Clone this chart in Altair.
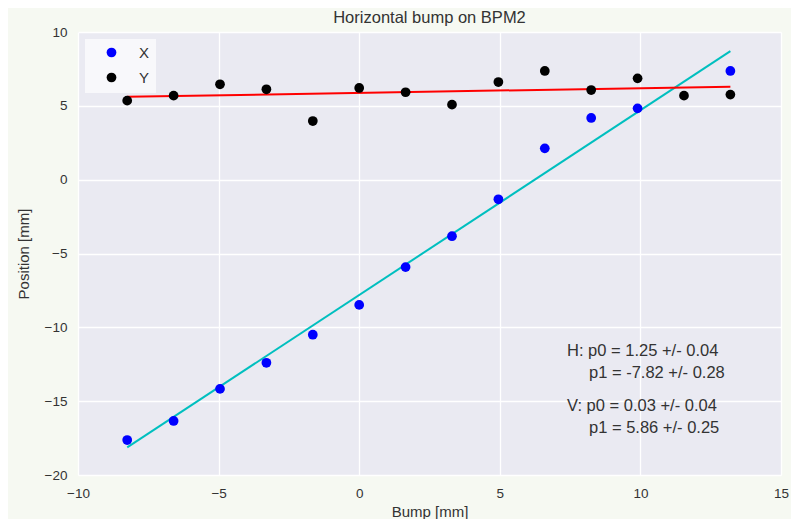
import altair as alt
import pandas as pd

# ---- data ----
bump = [-8.25, -6.6, -4.95, -3.3, -1.65, 0.0, 1.65, 3.3, 4.95, 6.6, 8.25, 9.9, 11.55, 13.2]
x_pos = [-17.63, -16.34, -14.17, -12.4, -10.5, -8.48, -5.92, -3.83, -1.33, 2.12, 4.18, 4.83, None, 7.36]
y_pos = [5.35, 5.69, 6.46, 6.12, 3.97, 6.21, 5.92, 5.08, 6.61, 7.36, 6.07, 6.86, 5.69, 5.76]

fit_x = [-8.25, 13.2]
h_fit = [-18.13, 8.70]
v_fit = [5.61, 6.30]

series_names = ["X", "Y"]
series_colors = ["#0000ff", "#000000"]

title_text = "Horizontal bump on BPM2"
annot_lines = [
    "H: p0 = 1.25 +/- 0.04",
    "p1 = -7.82 +/- 0.28",
    "V: p0 = 0.03 +/- 0.04",
    "p1 = 5.86 +/- 0.25",
]

x_ticks = [-10, -5, 0, 5, 10, 15]
y_ticks = [-20, -15, -10, -5, 0, 5, 10]

FONT = "Liberation Sans"
TXT = "#333333"

rows = []
for b, v in zip(bump, x_pos):
    if v is not None:
        rows.append({"bump": b, "pos": v, "series": "X"})
for b, v in zip(bump, y_pos):
    if v is not None:
        rows.append({"bump": b, "pos": v, "series": "Y"})
pts = pd.DataFrame(rows)

fit_df = pd.DataFrame({"bump": fit_x + fit_x,
                       "pos": h_fit + v_fit,
                       "fit": ["H", "H", "V", "V"]})

xscale = alt.Scale(domain=[-10, 15], nice=False, zero=False)
yscale = alt.Scale(domain=[-20, 10], nice=False, zero=False)

xaxis = alt.Axis(values=x_ticks, title="Bump [mm]", grid=True, ticks=False, tickSize=0,
                 domain=False, labelPadding=11, titlePadding=5, labelFontSize=13.5,
                 titleFontSize=15, titleFontWeight="normal", labelColor=TXT, titleColor=TXT,
                 labelFont=FONT, titleFont=FONT, gridColor="white", gridWidth=1.3,
                 labelFlush=False)
yaxis = alt.Axis(values=y_ticks, title="Position [mm]", grid=True, ticks=False, tickSize=0,
                 domain=False, labelPadding=11, titlePadding=13, labelFontSize=13.5,
                 titleFontSize=15, titleFontWeight="normal", labelColor=TXT, titleColor=TXT,
                 labelFont=FONT, titleFont=FONT, gridColor="white", gridWidth=1.3,
                 labelFlush=False)

base_x = alt.X("bump:Q", scale=xscale, axis=xaxis)
base_y = alt.Y("pos:Q", scale=yscale, axis=yaxis)

legend_box = alt.Chart(pd.DataFrame({"a": [0]})).mark_rect(
    color="#f8f8fb", opacity=1
).encode(x=alt.value(7), x2=alt.value(78), y=alt.value(7), y2=alt.value(61))

lines = alt.Chart(fit_df).mark_line(strokeWidth=2).encode(
    x=base_x, y=base_y,
    detail="fit:N",
    color=alt.Color("fit:N", scale=alt.Scale(domain=["H", "V"], range=["#00bfbf", "#ff0000"]),
                    legend=None),
)

points = alt.Chart(pts).mark_circle(size=95, opacity=1).encode(
    x=base_x, y=base_y,
    color=alt.Color("series:N",
                    scale=alt.Scale(domain=series_names, range=series_colors),
                    legend=alt.Legend(title=None, orient="none", legendX=26, legendY=13,
                                      padding=0, labelFontSize=15, labelFont=FONT,
                                      labelColor=TXT, labelOffset=20, symbolSize=95,
                                      symbolType="circle", rowPadding=9,
                                      symbolStrokeWidth=0)),
    order=alt.Order("series:N"),
)

title_mark = alt.Chart(pd.DataFrame({"t": [title_text]})).mark_text(
    align="center", baseline="middle", fontSize=16.5, font=FONT, color=TXT
).encode(text="t:N", x=alt.value(351.5), y=alt.value(-14))

text_pos = [(489, 319), (511, 341), (489, 374), (511, 396)]
texts = []
for line, (tx, ty) in zip(annot_lines, text_pos):
    texts.append(
        alt.Chart(pd.DataFrame({"t": [line]})).mark_text(
            align="left", baseline="middle", fontSize=16.5, font=FONT, color=TXT
        ).encode(text="t:N", x=alt.value(tx), y=alt.value(ty))
    )

chart = alt.layer(lines, legend_box, points, title_mark, *texts).resolve_scale(
    color="independent"
).properties(
    width=703, height=443,
    autosize=alt.AutoSizeParams(type="none"),
    padding={"left": 70, "top": 24, "right": 10, "bottom": 44},
    background="#f6f9f2",
).configure_view(fill="#eaeaf2", stroke=None)

chart.save("out.html", embed_options={"renderer": "svg", "actions": False})
